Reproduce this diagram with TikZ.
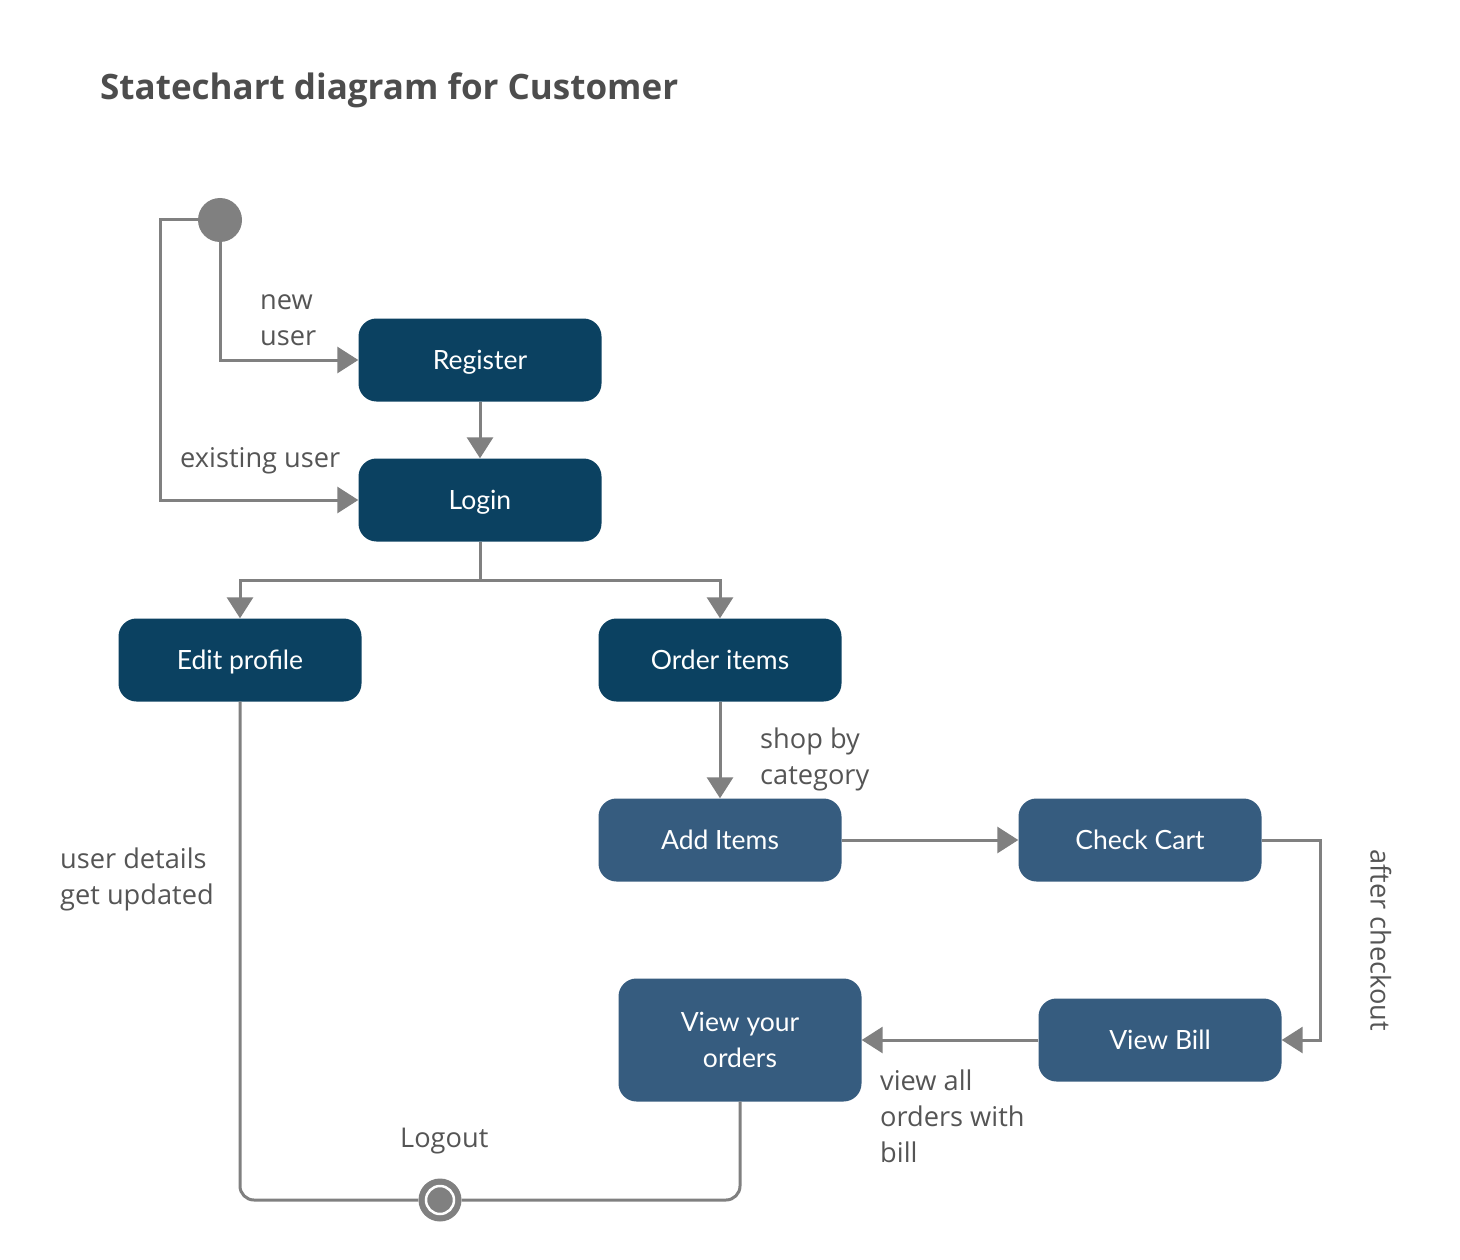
\documentclass[tikz,border=0pt]{standalone}
\usepackage{fontspec}
\setmainfont{Open Sans}
\newfontfamily\latofont{Lato}
\usetikzlibrary{arrows.meta}
\definecolor{darkst}{HTML}{0B4161}
\definecolor{lightst}{HTML}{365C7F}
\definecolor{conn}{HTML}{808080}
\definecolor{lbl}{HTML}{555555}
\definecolor{ttl}{HTML}{4D4D4D}
\tikzset{
  state/.style={rounded corners=18pt, minimum width=243pt, minimum height=83pt, text=white, font=\latofont\fontsize{26.5}{36}\selectfont, align=center, inner sep=0pt},
  oneline/.style={text height=19pt, text depth=0pt},
  darkstate/.style={state, oneline, fill=darkst},
  lightstate/.style={state, fill=lightst},
  conline/.style={draw=conn, line width=3pt},
  arr/.style={conline, -{Triangle[length=21pt,width=26pt]}},
  lab/.style={text=lbl, font=\fontsize{27.2}{36}\selectfont, align=left, anchor=west, inner sep=0pt},
}
\begin{document}
\begin{tikzpicture}[x=1pt,y=-1pt]
\useasboundingbox[fill=white] (0,0) rectangle (1460,1260);

\node[anchor=base west, inner sep=0pt, text=ttl, font=\bfseries\fontsize{35}{40}\selectfont] (title) at (100,100) {Statechart diagram for Customer};

\node[circle, fill=conn, minimum size=44pt, inner sep=0pt] (init) at (220,220) {};

\node[darkstate] (register) at (480,360) {Register};
\node[darkstate] (login) at (480,500) {Login};
\node[darkstate] (edit) at (240,660) {Edit profile};
\node[darkstate] (order) at (720,660) {Order items};
\node[lightstate, oneline] (add) at (720,840) {Add Items};
\node[lightstate, oneline] (cart) at (1140,840) {Check Cart};
\node[lightstate, oneline] (bill) at (1160,1040) {View Bill};
\node[lightstate, minimum height=123pt] (orders) at (740,1040) {View your\\orders};

\node[circle, fill=conn, minimum size=43pt, inner sep=0pt] (final) at (440,1200) {};

\coordinate (split) at (480,580);
\coordinate (cartturn) at (1320,840);
\coordinate (editturn) at (240,1200);
\coordinate (ordersturn) at (740,1200);

\draw[arr] (init.south) |- (register.west);
\draw[arr] (init.west) -| (160,300) |- (login.west);
\draw[arr] (register.south) -- (login.north);
\draw[conline] (login.south) -- (split);
\draw[arr] (split) -| (edit.north);
\draw[arr] (split) -| (order.north);
\draw[arr] (order.south) -- (add.north);
\draw[arr] (add.east) -- (cart.west);
\draw[arr] (cart.east) -- (cartturn) |- (bill.east);
\draw[arr] (bill.west) -- (orders.east);
\draw[conline, rounded corners=14pt] (edit.south) -- (editturn) -- (final.west);
\draw[conline, rounded corners=14pt] (orders.south) -- (ordersturn) -- (final.east);
\node[circle, fill=conn, draw=white, line width=2.5pt, minimum size=28pt, inner sep=0pt] (finalin) at (final) {};

\node[lab] (lnew) at (260,320) {new\\user};
\node[lab] (lexist) at (180,461) {existing user};
\node[lab] (lshop) at (760,759) {shop by\\category};
\node[lab] (luser) at (60,879) {user details\\get updated};
\node[lab] (lview) at (880,1116) {view all\\orders with\\bill};
\node[lab] (llogout) at (400,1141) {Logout};
\node[text=lbl, font=\fontsize{27.2}{36}\selectfont, inner sep=0pt, rotate=-90] (lafter) at (1381,940) {after checkout};
\end{tikzpicture}
\end{document}
